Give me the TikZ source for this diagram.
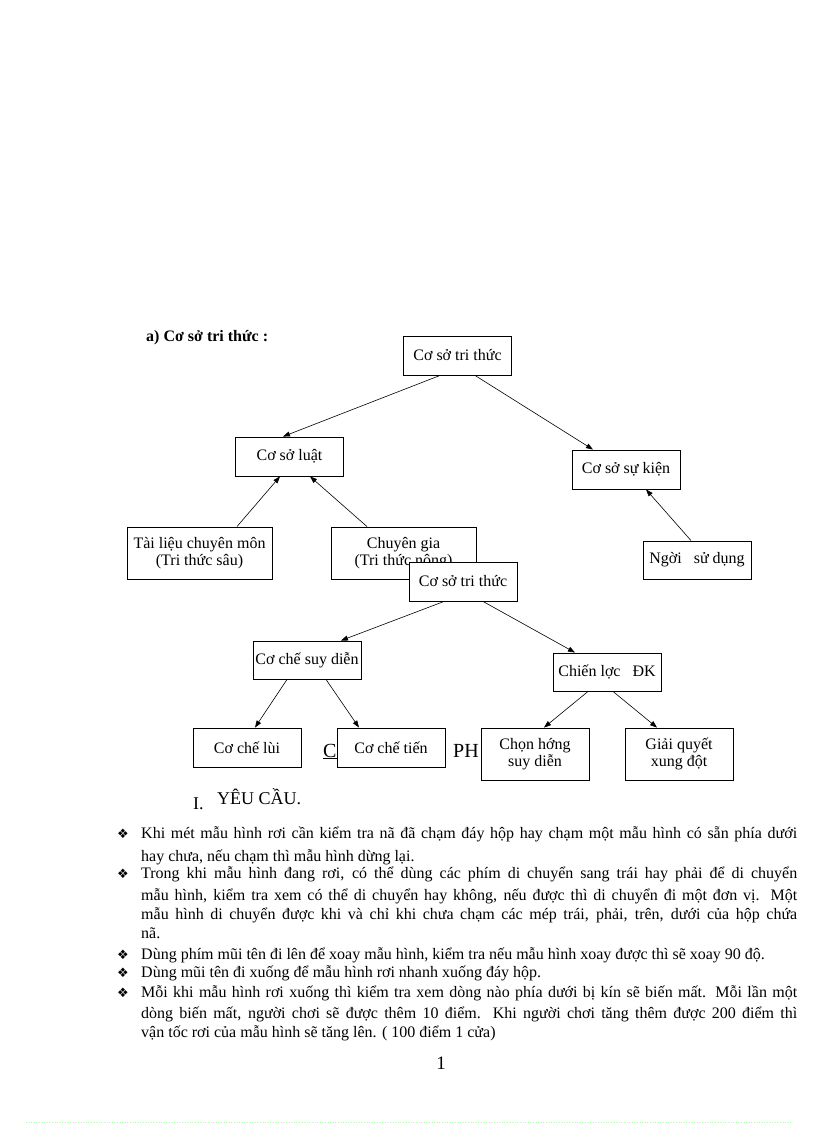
\documentclass[tikz,border=0pt]{standalone}
\usepackage{fontspec}
\setmainfont{Liberation Serif}
\newfontfamily\symfont{DejaVu Sans}
\usetikzlibrary{arrows.meta,calc}
\begin{document}
\begin{tikzpicture}[x=1pt,y=-1pt,
  box/.style={draw=black,line width=0.9pt,fill=white,rectangle,inner sep=0pt,align=center,
    font=\fontsize{16}{17.5}\selectfont,minimum width=108pt,minimum height=39pt},
  arr/.style={line width=0.6pt,-{Triangle[length=7pt,width=5pt]}},
  body/.style={anchor=base west,inner sep=0pt,font=\fontsize{16}{18}\selectfont},
  bul/.style={anchor=base west,inner sep=0pt,font=\symfont\fontsize{13}{14}\selectfont},
  plain/.style={anchor=base west,inner sep=0pt}]
\useasboundingbox[fill=white] (0,0) rectangle (816,1123);

% title
\node[plain,font=\bfseries\fontsize{16}{18}\selectfont] (ttl) at (146,341) {a) Cơ sở tri thức :};

% heading fragments hidden behind boxes
\node[plain,font=\fontsize{20}{22}\selectfont] (hc) at (323,757) {\underline{C}};
\node[plain,font=\fontsize{20}{22}\selectfont] (hph) at (453,757) {PH};

% boxes
\node[box] (top1) at (457.5,355.5) {Cơ sở tri thức};
\node[box] (luat) at (289.5,456.5) {Cơ sở luật};
\node[box] (sukien) at (626,469.5) {Cơ sở sự kiện};
\node[box,minimum width=145pt,minimum height=52pt] (tailieu) at (199.5,553) {Tài liệu chuyên môn\\(Tri thức sâu)};
\node[box,minimum width=145pt,minimum height=52pt] (chuyengia) at (403.5,553) {Chuyên gia\\(Tri thức nông)};
\node[box] (top2) at (463,581.5) {Cơ sở tri thức};
\node[box,minimum height=38pt] (nguoi) at (697,560) {Ngời\ \ \ sử dụng};
\node[box,minimum height=38pt] (suydien) at (307,660) {Cơ chế suy diễn};
\node[box,minimum height=38pt] (chienluoc) at (607,672) {Chiến lợc\ \ \ ĐK};
\node[box] (lui) at (247,747.5) {Cơ chế lùi};
\node[box] (tien) at (391,747.5) {Cơ chế tiến};
\node[box,minimum height=52pt] (chon) at (535,754) {Chọn hớng\\suy diễn};
\node[box,minimum height=52pt] (giai) at (679,754) {Giải quyết\\xung đột};

% arrows
\draw[arr] ([xshift=-17.5pt]top1.south) -- ([xshift=-6.5pt]luat.north);
\draw[arr] ([xshift=17.5pt]top1.south) -- ([xshift=-33pt]sukien.north);
\draw[arr] ([xshift=37.5pt]tailieu.north) -- ([xshift=-9.5pt]luat.south);
\draw[arr] ([xshift=-36.5pt]chuyengia.north) -- ([xshift=20.5pt]luat.south);
\draw[arr] ([xshift=-6pt]nguoi.north) -- ([xshift=20pt]sukien.south);
\draw[arr] ([xshift=-19pt]top2.south) -- ([xshift=34pt]suydien.north);
\draw[arr] ([xshift=20pt]top2.south) -- ([xshift=-32pt]chienluoc.north);
\draw[arr] ([xshift=-20pt]suydien.south) -- ([xshift=8pt]lui.north);
\draw[arr] ([xshift=19pt]suydien.south) -- ([xshift=-32pt]tien.north);
\draw[arr] ([xshift=-19pt]chienluoc.south) -- ([xshift=9pt]chon.north);
\draw[arr] ([xshift=6pt]chienluoc.south) -- ([xshift=-22pt]giai.north);

% section heading
\node[plain,font=\fontsize{18}{20}\selectfont] (sec) at (193,809) {I.};
\node[plain,font=\fontsize{18}{20}\selectfont] (yc) at (217,804) {YÊU CẦU.};

% bullets
\node[bul] (b1) at (117,838) {❖};
\node[bul] (b2) at (117,878) {❖};
\node[bul] (b3) at (117,959) {❖};
\node[bul] (b4) at (117,977) {❖};
\node[bul] (b5) at (117,997) {❖};

% body lines
\node[body] (l1) at (141,838) {\makebox[656pt][s]{Khi mét mẫu hình rơi cần kiểm tra nã đã chạm đáy hộp hay chạm một mẫu hình có sẵn phía dưới}};
\node[body] (l2) at (141,861) {hay chưa, nếu chạm thì mẫu hình dừng lại.};
\node[body] (l3) at (141,878) {\makebox[656pt][s]{Trong khi mẫu hình đang rơi, có thể dùng các phím di chuyển sang trái hay phải để di chuyển}};
\node[body] (l4) at (141,900) {\makebox[656pt][s]{mẫu hình, kiểm tra xem có thể di chuyển hay không, nếu được thì di chuyển đi một đơn vị. Một}};
\node[body] (l5) at (141,919) {\makebox[656pt][s]{mẫu hình di chuyển được khi và chỉ khi chưa chạm các mép trái, phải, trên, dưới của hộp chứa}};
\node[body] (l6) at (141,938) {nã.};
\node[body] (l7) at (141,959) {Dùng phím mũi tên đi lên để xoay mẫu hình, kiểm tra nếu mẫu hình xoay được thì sẽ xoay 90 độ.};
\node[body] (l8) at (141,977) {Dùng mũi tên đi xuống để mẫu hình rơi nhanh xuống đáy hộp.};
\node[body] (l9) at (141,997) {\makebox[656pt][s]{Mỗi khi mẫu hình rơi xuống thì kiểm tra xem dòng nào phía dưới bị kín sẽ biến mất. Mỗi lần một}};
\node[body] (l10) at (141,1018) {\makebox[656pt][s]{dòng biến mất, người chơi sẽ được thêm 10 điểm. Khi người chơi tăng thêm được 200 điểm thì}};
\node[body] (l11) at (141,1037) {vận tốc rơi của mẫu hình sẽ tăng lên. ( 100 điểm 1 cửa)};

% page number
\node[anchor=base,inner sep=0pt,font=\fontsize{19}{21}\selectfont] (pg) at (441,1069) {1};

% faint dotted rule at the foot
\draw[green!35!white,dotted,line width=0.6pt] (26,1122) -- (792,1122);
\end{tikzpicture}
\end{document}
